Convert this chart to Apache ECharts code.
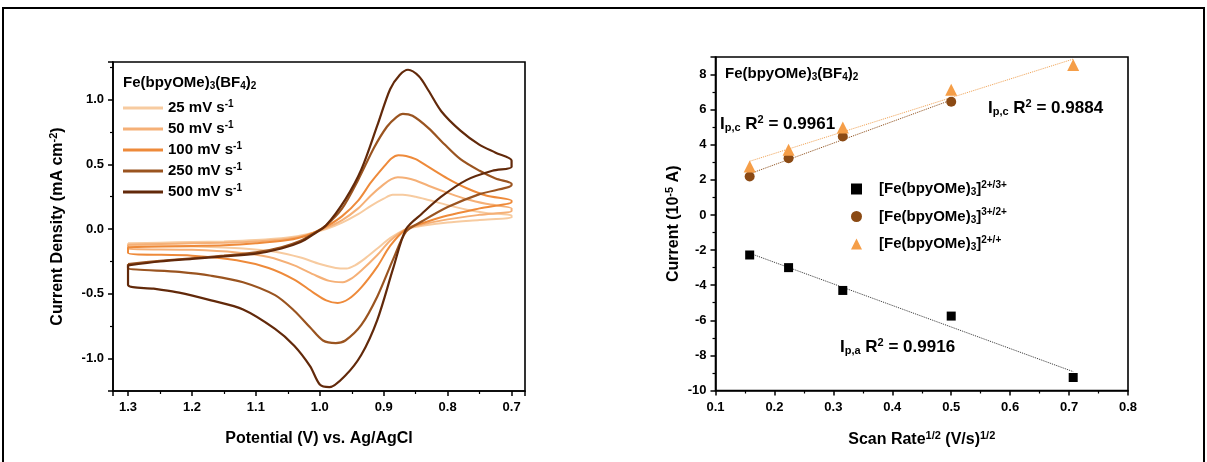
<!DOCTYPE html>
<html><head><meta charset="utf-8">
<script src="https://cdn.jsdelivr.net/npm/echarts@6/dist/echarts.min.js"></script>
<style>html,body{margin:0;padding:0;background:#fff}#c{width:1207px;height:462px}</style>
</head><body><div id="c"></div>
<script>
// ---------- Left panel: cyclic voltammograms (V vs Ag/AgCl, mA cm^-2) ----------
const scanRateNames = ['25 mV s-1', '50 mV s-1', '100 mV s-1', '250 mV s-1', '500 mV s-1'];
const cvColors = ['#F7CBA0', '#F5B077', '#EE8A3A', '#9A5420', '#62290A'];

const cv25Up = [[1.30,-0.11],[1.25,-0.105],[1.20,-0.10],[1.15,-0.095],[1.10,-0.085],[1.05,-0.065],[1.02,-0.04],[0.99,0.0],[0.965,0.05],[0.94,0.115],[0.92,0.18],[0.90,0.235],[0.886,0.265],[0.87,0.265],[0.85,0.25],[0.83,0.225],[0.80,0.185],[0.77,0.15],[0.74,0.125],[0.70,0.105]];
const cv25Down = [[0.70,0.09],[0.75,0.07],[0.80,0.05],[0.84,0.025],[0.865,0.0],[0.89,-0.07],[0.91,-0.15],[0.93,-0.23],[0.945,-0.28],[0.958,-0.305],[0.975,-0.30],[1.0,-0.27],[1.03,-0.22],[1.07,-0.175],[1.12,-0.15],[1.2,-0.135],[1.3,-0.125]];

const cv50Up = [[1.30,-0.12],[1.25,-0.115],[1.20,-0.11],[1.15,-0.105],[1.10,-0.095],[1.05,-0.075],[1.02,-0.045],[0.99,0.01],[0.965,0.07],[0.94,0.16],[0.92,0.26],[0.90,0.345],[0.888,0.385],[0.878,0.40],[0.865,0.395],[0.85,0.375],[0.83,0.335],[0.80,0.28],[0.77,0.23],[0.74,0.195],[0.70,0.16]];
const cv50Down = [[0.70,0.14],[0.75,0.11],[0.80,0.075],[0.84,0.035],[0.865,0.0],[0.89,-0.09],[0.91,-0.2],[0.935,-0.32],[0.95,-0.38],[0.964,-0.41],[0.985,-0.40],[1.01,-0.35],[1.04,-0.28],[1.08,-0.215],[1.13,-0.18],[1.2,-0.16],[1.3,-0.15]];

const cv100Up = [[1.30,-0.14],[1.25,-0.135],[1.20,-0.13],[1.15,-0.125],[1.10,-0.11],[1.05,-0.085],[1.02,-0.05],[0.99,0.02],[0.965,0.1],[0.94,0.22],[0.92,0.36],[0.90,0.48],[0.888,0.545],[0.877,0.57],[0.865,0.565],[0.85,0.54],[0.83,0.48],[0.80,0.39],[0.77,0.315],[0.74,0.26],[0.70,0.22]];
const cv100Down = [[0.70,0.21],[0.75,0.16],[0.80,0.105],[0.84,0.045],[0.865,0.0],[0.89,-0.13],[0.91,-0.29],[0.935,-0.45],[0.955,-0.54],[0.972,-0.57],[0.99,-0.55],[1.01,-0.49],[1.04,-0.39],[1.08,-0.3],[1.13,-0.24],[1.2,-0.205],[1.3,-0.185]];

const cv250Up = [[1.30,-0.27],[1.25,-0.245],[1.20,-0.225],[1.15,-0.205],[1.10,-0.18],[1.06,-0.14],[1.03,-0.09],[1.01,-0.035],[0.99,0.03],[0.965,0.16],[0.94,0.38],[0.915,0.63],[0.895,0.79],[0.88,0.865],[0.87,0.89],[0.855,0.875],[0.83,0.78],[0.805,0.655],[0.78,0.54],[0.75,0.45],[0.725,0.39],[0.70,0.35]];
const cv250Down = [[0.70,0.34],[0.75,0.27],[0.80,0.17],[0.84,0.06],[0.865,-0.02],[0.885,-0.23],[0.91,-0.52],[0.935,-0.74],[0.96,-0.86],[0.975,-0.88],[0.995,-0.86],[1.015,-0.76],[1.04,-0.63],[1.07,-0.51],[1.12,-0.41],[1.17,-0.36],[1.22,-0.33],[1.30,-0.30]];

const cv500Up = [[1.30,-0.28],[1.25,-0.25],[1.20,-0.23],[1.15,-0.21],[1.10,-0.19],[1.06,-0.15],[1.03,-0.10],[1.01,-0.04],[0.99,0.03],[0.96,0.23],[0.935,0.46],[0.91,0.80],[0.89,1.08],[0.875,1.19],[0.862,1.23],[0.845,1.18],[0.83,1.07],[0.81,0.91],[0.78,0.76],[0.75,0.65],[0.725,0.59],[0.70,0.53]];
const cv500Down = [[0.70,0.48],[0.73,0.45],[0.77,0.38],[0.81,0.25],[0.84,0.12],[0.865,0.0],[0.885,-0.3],[0.91,-0.7],[0.935,-0.97],[0.96,-1.13],[0.985,-1.22],[1.0,-1.2],[1.015,-1.06],[1.04,-0.9],[1.07,-0.77],[1.12,-0.62],[1.17,-0.55],[1.22,-0.49],[1.26,-0.46],[1.30,-0.43]];

const cvUp = [cv25Up, cv50Up, cv100Up, cv250Up, cv500Up];
const cvDown = [cv25Down, cv50Down, cv100Down, cv250Down, cv500Down];

// ---------- Right panel: peak current vs sqrt(scan rate) ----------
const sqrtScanRate = [0.158, 0.224, 0.316, 0.5, 0.707];
const ipa23 = [-2.28, -3.0, -4.3, -5.76, -9.26];   // [Fe]2+/3+
const ipc32 = [2.19, 3.23, 4.47, 6.45];            // [Fe]3+/2+
const ipc21 = [2.76, 3.71, 4.98, 7.13, 8.54];      // [Fe]2+/+
const peakNames = ['[Fe(bpyOMe)3]2+/3+', '[Fe(bpyOMe)3]3+/2+', '[Fe(bpyOMe)3]2+/+'];
const peakSups = ['2+/3+', '3+/2+', '2+/+'];
const r2Labels = ['0.9961', '0.9884', '0.9916'];

function linFit(xs, ys) {
  const n = ys.length, x = xs.slice(0, n);
  const mx = x.reduce((a, b) => a + b, 0) / n, my = ys.reduce((a, b) => a + b, 0) / n;
  let sxy = 0, sxx = 0;
  for (let i = 0; i < n; i++) { sxy += (x[i] - mx) * (ys[i] - my); sxx += (x[i] - mx) ** 2; }
  const b = sxy / sxx, a = my - b * mx;
  return [[x[0], a + b * x[0]], [x[n - 1], a + b * x[n - 1]]];
}
const pairs = (xs, ys) => ys.map((y, i) => [xs[i], y]);

const FONT = '"Liberation Sans", Arial, sans-serif';
const base = (size) => ({ fontFamily: FONT, fontWeight: 'bold', fontSize: size, color: '#000' });
function richSet(size, small) {
  return {
    t: base(size),
    sup: Object.assign(base(small), { padding: [0, 0, Math.round(size * 0.5), 0] }),
    sub: Object.assign(base(small), { padding: [Math.round(size * 0.45), 0, 0, 0] })
  };
}

const chart = echarts.init(document.getElementById('c'), null, { renderer: 'canvas' });

const axisCommon = {
  axisLine: { onZero: false, lineStyle: { color: '#000', width: 1.6 } },
  axisTick: { inside: false, length: 5, lineStyle: { color: '#000', width: 1.5 } },
  minorTick: { show: true, splitNumber: 2, length: 3, lineStyle: { color: '#000', width: 1.2 } },
  splitLine: { show: false },
  axisLabel: { fontFamily: FONT, fontWeight: 'bold', fontSize: 13, color: '#000', margin: 9 },
  nameLocation: 'middle'
};

const series = [];
scanRateNames.forEach((nm, i) => {
  series.push({
    name: nm, type: 'line', xAxisIndex: 0, yAxisIndex: 0,
    data: cvUp[i].concat(cvDown[i], [cvUp[i][0]]),
    showSymbol: false, smooth: 0.3,
    lineStyle: { color: cvColors[i], width: i >= 3 ? 2.2 : 2 },
    itemStyle: { color: cvColors[i] }, z: 2 + i
  });
});
const fitCols = ['#333', '#8B4A14', '#F0A050'];
const fitData = [linFit(sqrtScanRate, ipa23), linFit(sqrtScanRate, ipc32), linFit(sqrtScanRate, ipc21)];
fitData.forEach((d, i) => series.push({
  type: 'line', xAxisIndex: 1, yAxisIndex: 1, data: d, showSymbol: false, silent: true,
  lineStyle: { color: fitCols[i], width: 1, type: 'dotted' }, z: 2
}));
const symb = ['rect', 'circle', 'triangle'], symSize = [9, 10, 12], symCol = ['#000', '#8B4A14', '#F59E48'];
[ipa23, ipc32, ipc21].forEach((ys, i) => series.push({
  name: peakNames[i], type: 'scatter', xAxisIndex: 1, yAxisIndex: 1,
  data: pairs(sqrtScanRate, ys), symbol: symb[i], symbolSize: symSize[i],
  itemStyle: { color: symCol[i], opacity: 1 }, z: 5
}));

chart.setOption({
  animation: false,
  backgroundColor: '#fff',
  grid: [
    { left: 113, top: 62, width: 412, height: 329, show: true, borderColor: '#000', borderWidth: 1.6 },
    { left: 715.5, top: 57, width: 412.5, height: 333.5, show: true, borderColor: '#000', borderWidth: 1.6 }
  ],
  xAxis: [
    Object.assign({}, axisCommon, {
      type: 'value', gridIndex: 0, inverse: true, min: 0.679, max: 1.3235, splitNumber: 6,
      axisLabel: Object.assign({}, axisCommon.axisLabel, { margin: 10, showMinLabel: false, showMaxLabel: false, formatter: v => v.toFixed(1) }),
      name: 'Potential (V) vs. Ag/AgCl', nameGap: 40,
      nameTextStyle: base(16)
    }),
    Object.assign({}, axisCommon, {
      type: 'value', gridIndex: 1, min: 0.1, max: 0.8, interval: 0.1,
      axisLabel: Object.assign({}, axisCommon.axisLabel, { margin: 10, formatter: v => v.toFixed(1) }),
      name: '{t|Scan Rate}{sup|1/2}{t| (V/s)}{sup|1/2}', nameGap: 40,
      nameTextStyle: { rich: richSet(16, 11) }
    })
  ],
  yAxis: [
    Object.assign({}, axisCommon, {
      type: 'value', gridIndex: 0, min: -1.25, max: 1.29, splitNumber: 5,
      axisLabel: Object.assign({}, axisCommon.axisLabel, { showMinLabel: false, showMaxLabel: false, formatter: v => v.toFixed(1) }),
      name: '{t|Current Density (mA cm}{sup|-2}{t|)}', nameGap: 46,
      nameTextStyle: { rich: richSet(16, 11) }
    }),
    Object.assign({}, axisCommon, {
      type: 'value', gridIndex: 1, min: -10, max: 9, interval: 2,
      axisLabel: Object.assign({}, axisCommon.axisLabel, { showMaxLabel: false }),
      name: '{t|Current (10}{sup|-5}{t| A)}', nameGap: 32,
      nameTextStyle: { rich: richSet(16, 11) }
    })
  ],
  legend: [
    {
      data: scanRateNames, orient: 'vertical', left: 118, top: 94, itemGap: 4.5,
      icon: 'rect', itemWidth: 40, itemHeight: 3, selectedMode: false,
      formatter: n => '{t|' + n.replace(' s-1', ' s') + '}{sup|-1}',
      textStyle: { rich: richSet(15, 10) }
    },
    {
      data: peakNames, orient: 'vertical', left: 846, top: 175, itemGap: 10,
      itemWidth: 11, itemHeight: 11, selectedMode: false,
      formatter: n => '{t|[Fe(bpyOMe)}{sub|3}{t|]}{sup|' + peakSups[peakNames.indexOf(n)] + '}',
      textStyle: { rich: richSet(15, 10), padding: [0, 0, 0, 12] }
    }
  ],
  graphic: [
    { type: 'rect', shape: { x: 3, y: 8, width: 1201, height: 470 }, style: { fill: 'none', stroke: '#000', lineWidth: 2 }, silent: true },
    { type: 'text', left: 123, top: 75, style: { text: '{t|Fe(bpyOMe)}{sub|3}{t|(BF}{sub|4}{t|)}{sub|2}', rich: richSet(15, 10) } },
    { type: 'text', left: 725, top: 66, style: { text: '{t|Fe(bpyOMe)}{sub|3}{t|(BF}{sub|4}{t|)}{sub|2}', rich: richSet(15, 10) } },
    { type: 'text', left: 720, top: 114, style: { text: '{t|I}{sub|p,c}{t| R}{sup|2}{t| = ' + r2Labels[0] + '}', rich: richSet(17, 11) } },
    { type: 'text', left: 988, top: 98, style: { text: '{t|I}{sub|p,c}{t| R}{sup|2}{t| = ' + r2Labels[1] + '}', rich: richSet(17, 11) } },
    { type: 'text', left: 840, top: 337, style: { text: '{t|I}{sub|p,a}{t| R}{sup|2}{t| = ' + r2Labels[2] + '}', rich: richSet(17, 11) } }
  ],
  series: series
});
</script></body></html>
